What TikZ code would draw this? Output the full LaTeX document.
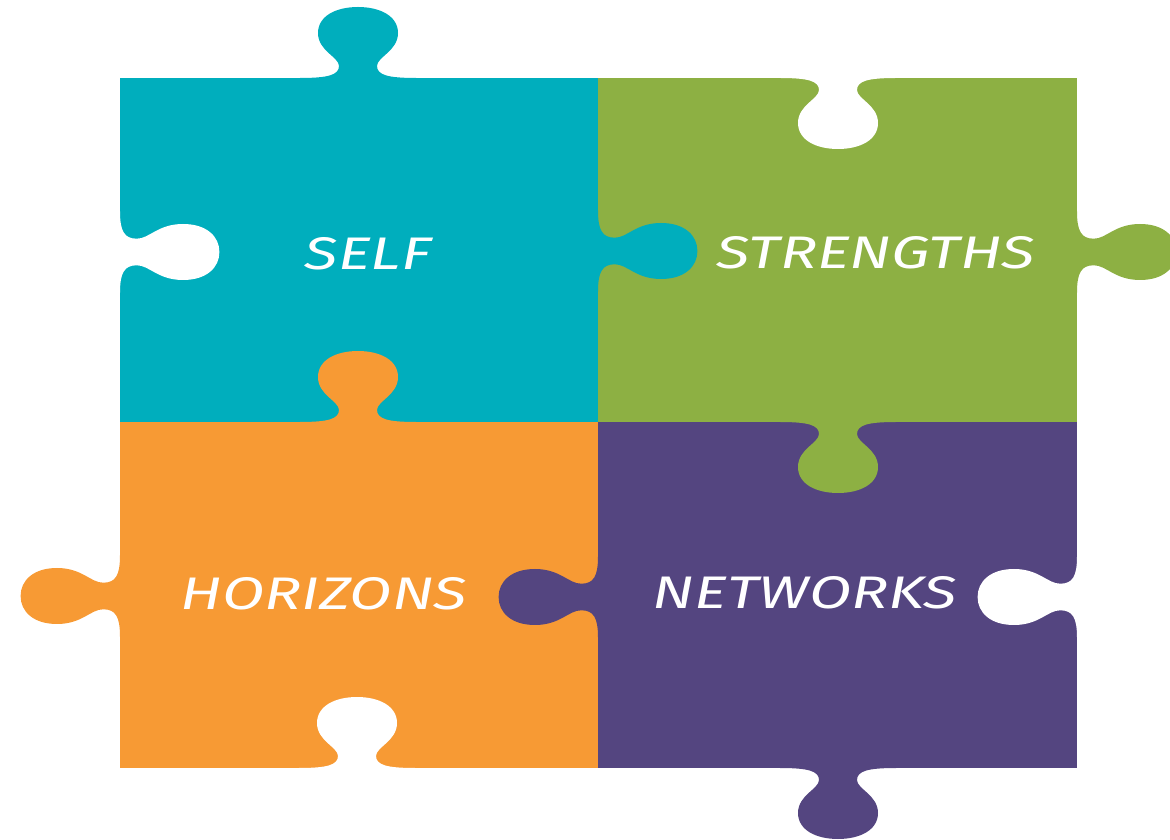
\documentclass[tikz,border=0pt]{standalone}
\usepackage{fontspec}
\newfontfamily\puzzlefont[FakeStretch=1.35]{Fira Sans}
\usepackage{tikz}

\definecolor{selfteal}{RGB}{0,174,189}
\definecolor{strengthgreen}{RGB}{141,176,67}
\definecolor{horizonorange}{RGB}{247,154,52}
\definecolor{networkpurple}{RGB}{84,69,128}

% one knob, base on b=0, pointing to +b
\newcommand\tabshape{(-58,-2) -- (-58,0)
  .. controls (-30,0) and (-19,3) .. (-19,12)
  .. controls (-19,21) and (-40,27) .. (-40,45)
  .. controls (-40,62) and (-22,71) .. (0,71)
  .. controls (22,71) and (40,62) .. (40,45)
  .. controls (40,27) and (19,21) .. (19,12)
  .. controls (19,3) and (30,0) .. (58,0) -- (58,-2) -- cycle}

\begin{document}
\begin{tikzpicture}[x=0.02cm,y=0.02cm,
  tabup/.style={},
  tabdown/.style={yscale=-1},
  tabright/.style={xscale=1.4,yscale=0.7,rotate=-90},
  tableft/.style={xscale=-1.4,yscale=0.7,rotate=-90},
  word/.style={text=white,inner sep=0pt,
    font=\puzzlefont\itshape\fontsize{26}{30}\selectfont}]
\useasboundingbox (0,0) rectangle (1170,839);
\clip (0,0) rectangle (1170,839);
% the four pieces
\fill[selfteal] (120,417) rectangle (598,761);
\fill[strengthgreen] (598,417) rectangle (1077,761);
\fill[horizonorange] (120,71) rectangle (598,417);
\fill[networkpurple] (598,71) rectangle (1077,417);
% knobs and holes
\foreach \x/\y/\dir/\col in {358/761/tabup/selfteal, 598/588/tabright/selfteal,
    120/587/tabright/white, 358/417/tabup/horizonorange,
    120/243/tableft/horizonorange, 357/71/tabup/white,
    838/761/tabdown/white, 1077/587/tabright/strengthgreen,
    838/417/tabdown/strengthgreen, 598/242/tableft/networkpurple,
    1077/242/tableft/white, 838/71/tabdown/networkpurple}
  \fill[\col,shift={(\x,\y)},\dir] \tabshape;
% labels
\node[word] (self) at (368,585) {SELF};
\node[word] (strengths) at (876,586) {STRENGTHS};
\node[word] (horizons) at (324,245) {HORIZONS};
\node[word] (networks) at (805,246) {NETWORKS};
\end{tikzpicture}
\end{document}
